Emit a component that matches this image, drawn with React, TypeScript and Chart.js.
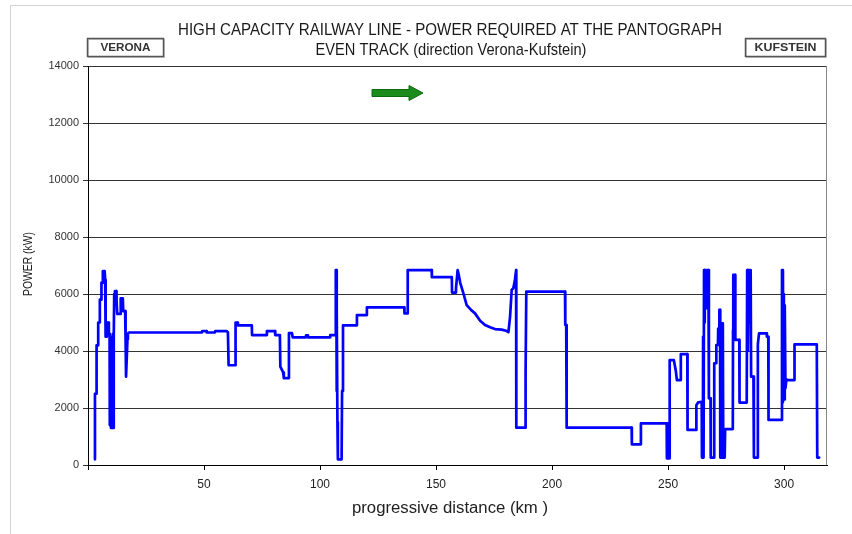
import { useEffect, useRef } from 'react';
import { Chart, registerables } from 'chart.js';

Chart.register(...registerables);

const chartTitle = [
  'HIGH CAPACITY RAILWAY LINE - POWER REQUIRED AT THE PANTOGRAPH',
  'EVEN TRACK (direction Verona-Kufstein)',
];
const startStation = 'VERONA';
const endStation = 'KUFSTEIN';
const xAxisTitle = 'progressive distance (km )';
const yAxisTitle = 'POWER (kW)';

const xTickValues = [0, 50, 100, 150, 200, 250, 300];
const yTickValues = [0, 2000, 4000, 6000, 8000, 10000, 12000, 14000];
const xMaxKm = 318.5;

const distanceKm = [
  3.0, 3.0, 3.7, 3.7, 4.4, 4.4, 5.1, 5.1, 5.7, 5.8,
  6.3, 6.4, 7.2, 7.4, 7.6, 8.1, 8.2, 8.8, 9.0, 9.3,
  9.4, 9.7, 9.9, 10.2, 10.4, 10.7, 10.9, 11.1, 11.3, 11.6,
  12.1, 12.3, 12.6, 13.9, 14.1, 15.0, 15.2, 16.0, 16.2, 16.4,
  16.8, 17.0, 17.2, 17.6, 49.0, 49.2, 51.0, 51.2, 54.6, 54.8,
  59.8, 60.3, 60.6, 63.4, 63.6, 64.4, 64.6, 70.6, 70.7, 77.0,
  77.1, 80.6, 80.7, 82.7, 82.9, 84.1, 84.4, 86.3, 86.6, 87.9,
  88.2, 93.8, 94.0, 94.6, 94.8, 104.3, 104.4, 106.6, 106.8, 107.0,
  107.1, 107.2, 107.3, 107.5, 107.7, 109.3, 109.5, 109.9, 115.8, 115.9,
  120.1, 120.2, 136.3, 136.4, 137.7, 137.8, 148.1, 148.2, 156.8, 156.9,
  158.2, 158.6, 159.3, 159.8, 160.4, 161.8, 163.2, 165.0, 166.8, 169.0,
  171.1, 173.3, 175.4, 178.3, 180.5, 181.2, 181.9, 182.6, 183.3, 184.0,
  184.5, 184.6, 188.4, 188.6, 188.9, 205.6, 205.7, 206.1, 206.3, 234.3,
  234.4, 238.2, 238.3, 249.4, 249.5, 249.7, 249.9, 250.1, 250.3, 250.5,
  250.7, 252.5, 252.9, 253.4, 253.8, 255.3, 255.5, 258.3, 258.4, 262.1,
  262.2, 263.0, 264.5, 264.6, 265.0, 265.1, 265.3, 265.5, 265.8, 266.0,
  266.4, 266.6, 267.4, 267.6, 268.3, 268.4, 269.8, 269.9, 270.7, 270.8,
  271.5, 271.6, 272.0, 272.1, 272.4, 272.5, 273.0, 273.2, 273.6, 273.8,
  274.4, 274.6, 277.9, 278.0, 278.1, 278.9, 279.0, 280.7, 280.8, 283.9,
  284.1, 284.4, 284.7, 285.0, 285.3, 285.6, 285.8, 286.8, 287.0, 288.5,
  288.7, 289.2, 292.5, 292.6, 293.2, 293.3, 299.0, 299.1, 299.3, 299.5,
  299.7, 299.9, 300.1, 300.3, 300.6, 301.0, 301.2, 304.4, 304.5, 314.1,
  314.3, 315.1,
];

const powerKw = [
  200, 2500, 2500, 4200, 4200, 5000, 5000, 5800, 5800, 6400,
  6400, 6800, 6800, 6500, 4500, 4500, 5000, 5000, 4600, 4600,
  1400, 4500, 1300, 4500, 1300, 4600, 1300, 4500, 6000, 6100,
  6100, 5800, 5300, 5300, 5850, 5850, 5400, 5400, 4400, 3100,
  3100, 4400, 4600, 4650, 4650, 4700, 4700, 4650, 4650, 4700,
  4700, 4650, 3500, 3500, 5000, 5000, 4900, 4900, 4560, 4560,
  4700, 4700, 4560, 4560, 3450, 3250, 3050, 3050, 4630, 4630,
  4480, 4480, 4550, 4550, 4480, 4480, 4560, 4560, 6840, 6840,
  4500, 2600, 5500, 1500, 200, 200, 2600, 4900, 4900, 5260,
  5260, 5530, 5530, 5320, 5320, 6840, 6840, 6590, 6590, 6050,
  6050, 6200, 6840, 6670, 6400, 6020, 5610, 5450, 5320, 5060,
  4910, 4830, 4770, 4750, 4700, 4660, 5200, 6140, 6200, 6490,
  6840, 1310, 1310, 3270, 6080, 6080, 4910, 4910, 1310, 1310,
  725, 725, 1460, 1460, 235, 1460, 235, 1300, 235, 235,
  3680, 3680, 3500, 3270, 2980, 2980, 3890, 3890, 1230, 1230,
  2100, 2200, 2220, 260, 260, 4500, 260, 6840, 5000, 6840,
  5500, 6840, 6840, 2340, 2340, 260, 260, 3570, 3570, 4210,
  4210, 4790, 4790, 5440, 5440, 260, 260, 4970, 4970, 260,
  260, 1260, 1260, 4740, 6670, 6670, 4390, 4390, 2190, 2190,
  6840, 4000, 6840, 5000, 6840, 6840, 3100, 3100, 260, 260,
  4230, 4620, 4620, 4500, 4500, 1580, 1580, 6840, 2200, 6840,
  2500, 6000, 2300, 5600, 2700, 3000, 2980, 2980, 4230, 4230,
  260, 260,
];

const FONT = '"Liberation Sans", Arial, sans-serif';

function fitText(
  ctx: CanvasRenderingContext2D,
  text: string,
  cx: number,
  cy: number,
  width: number,
  font: string,
  color: string,
  rotate = 0
) {
  ctx.save();
  ctx.font = font;
  ctx.fillStyle = color;
  ctx.textAlign = 'center';
  ctx.textBaseline = 'middle';
  const w = ctx.measureText(text).width;
  ctx.translate(cx, cy);
  if (rotate) ctx.rotate(rotate);
  ctx.scale(width / w, 1);
  ctx.fillText(text, 0, 0);
  ctx.restore();
}

function stationBox(ctx: CanvasRenderingContext2D, label: string, x: number, y: number, w: number, h: number, textW: number) {
  ctx.save();
  ctx.fillStyle = '#ffffff';
  ctx.fillRect(x, y, w, h);
  ctx.strokeStyle = '#c8c8c8';
  ctx.lineWidth = 1;
  ctx.strokeRect(x + 1.5, y + 1.5, w, h);
  ctx.strokeStyle = '#555555';
  ctx.lineWidth = 1.5;
  ctx.strokeRect(x + 0.5, y + 0.5, w, h);
  ctx.restore();
  fitText(ctx, label, x + w / 2 + 0.5, y + h / 2 + 1, textW, `bold 11px ${FONT}`, '#333333');
}

const decorPlugin = {
  id: 'decor',
  beforeDraw(chart: any) {
    const ctx = chart.ctx as CanvasRenderingContext2D;
    ctx.save();
    ctx.fillStyle = '#ffffff';
    ctx.fillRect(0, 0, chart.width, chart.height);
    ctx.strokeStyle = '#d4d4d4';
    ctx.lineWidth = 1;
    ctx.beginPath();
    ctx.moveTo(10.5, chart.height);
    ctx.lineTo(10.5, 5.5);
    ctx.lineTo(chart.width, 5.5);
    ctx.stroke();
    ctx.restore();
  },
  afterDraw(chart: any) {
    const ctx = chart.ctx as CanvasRenderingContext2D;
    const a = chart.chartArea;
    ctx.save();
    ctx.strokeStyle = '#888888';
    ctx.lineWidth = 1;
    ctx.beginPath();
    ctx.moveTo(Math.round(a.right) - 0.5, a.top);
    ctx.lineTo(Math.round(a.right) - 0.5, a.bottom);
    ctx.stroke();
    ctx.restore();

    fitText(ctx, chartTitle[0], 450, 30, 544, `17px ${FONT}`, '#1a1a1a');
    fitText(ctx, chartTitle[1], 451, 50, 271, `17px ${FONT}`, '#1a1a1a');

    stationBox(ctx, startStation, 87, 38, 76, 18, 50);
    stationBox(ctx, endStation, 745, 38, 80, 18, 62);

    ctx.save();
    ctx.fillStyle = '#1b8c1b';
    ctx.strokeStyle = '#0f6a0f';
    ctx.lineWidth = 1;
    ctx.beginPath();
    ctx.moveTo(372, 89.5);
    ctx.lineTo(409, 89.5);
    ctx.lineTo(409, 85.5);
    ctx.lineTo(423, 93);
    ctx.lineTo(409, 100.5);
    ctx.lineTo(409, 96.5);
    ctx.lineTo(372, 96.5);
    ctx.closePath();
    ctx.fill();
    ctx.stroke();
    ctx.restore();

    fitText(ctx, yAxisTitle, 28, 264, 64, `13px ${FONT}`, '#222222', -Math.PI / 2);
    fitText(ctx, xAxisTitle, 450, 509, 196, `16px ${FONT}`, '#222222');
  },
};

export default function App() {
  const ref = useRef<HTMLCanvasElement>(null);

  useEffect(() => {
    const canvas = ref.current;
    if (!canvas) return;
    const points = distanceKm.map((x, i) => ({ x, y: powerKw[i] }));
    const chart = new Chart(canvas, {
      type: 'line',
      data: {
        datasets: [
          {
            data: points,
            borderColor: '#0000ff',
            borderWidth: 2.7,
            pointRadius: 0,
            tension: 0,
            fill: false,
            borderJoinStyle: 'round',
            borderCapStyle: 'round',
          },
        ],
      },
      options: {
        animation: false,
        responsive: false,
        layout: { padding: { top: 66, right: 25, left: 0, bottom: 0 } },
        plugins: {
          legend: { display: false },
          tooltip: { enabled: false },
          title: { display: false },
        },
        scales: {
          x: {
            type: 'linear',
            min: 0,
            max: xMaxKm,
            afterFit: (s: any) => {
              s.height = 69;
            },
            afterBuildTicks: (s: any) => {
              s.ticks = xTickValues.map((v) => ({ value: v }));
            },
            ticks: {
              autoSkip: false,
              maxRotation: 0,
              padding: 7,
              color: '#222222',
              font: { family: FONT, size: 12 },
              callback: (v: any) => (v === 0 ? '' : String(v)),
            },
            grid: {
              drawOnChartArea: false,
              drawTicks: true,
              tickLength: 5,
              color: '#000000',
            },
            border: { display: true, color: '#000000', width: 1 },
          },
          y: {
            type: 'linear',
            min: 0,
            max: 14000,
            afterFit: (s: any) => {
              s.width = 88;
            },
            afterBuildTicks: (s: any) => {
              s.ticks = yTickValues.map((v) => ({ value: v }));
            },
            ticks: {
              autoSkip: false,
              padding: 4,
              color: '#333333',
              font: { family: FONT, size: 11 },
              callback: (v: any) => String(v),
            },
            grid: {
              color: '#333333',
              lineWidth: 1,
              tickLength: 5,
            },
            border: { display: true, color: '#000000', width: 1 },
          },
        },
      },
      plugins: [decorPlugin],
    });
    return () => chart.destroy();
  }, []);

  return (
    <div style={{ position: 'absolute', left: 0, top: 0, width: 852, height: 534, background: '#ffffff' }}>
      <canvas ref={ref} width={852} height={534} style={{ display: 'block', width: 852, height: 534 }} />
    </div>
  );
}
